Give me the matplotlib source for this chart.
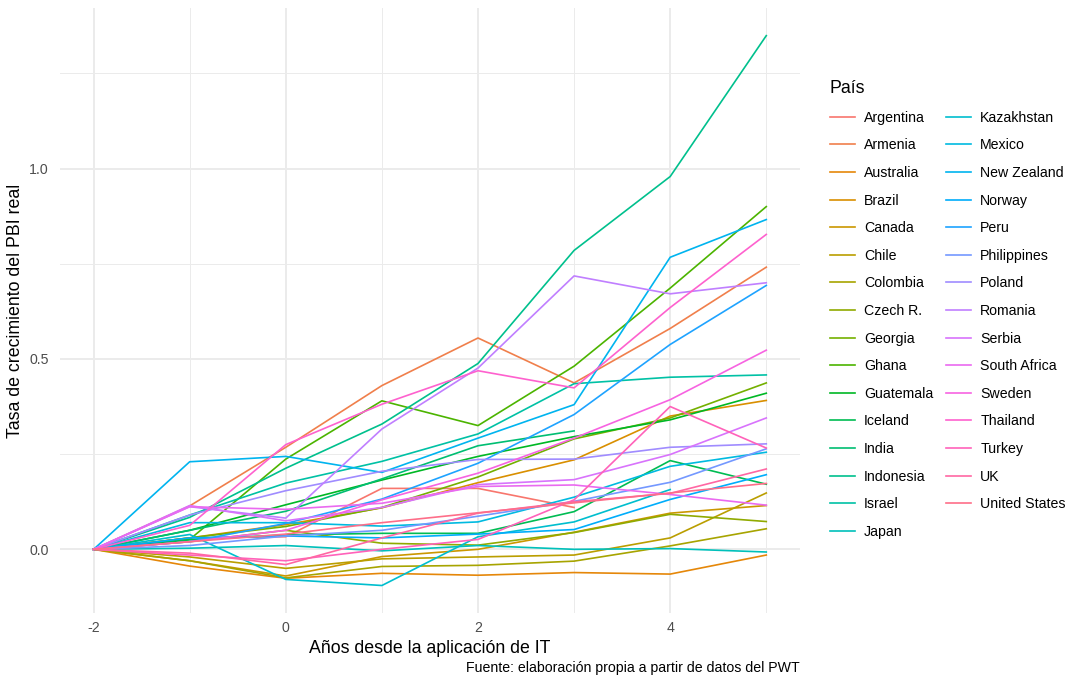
import numpy as np
from matplotlib import pyplot as plt

anios = [-2, -1, 0, 1, 2, 3, 4, 5]

argentina = [0, 0.03, 0.033, 0.16, 0.16, 0.11]
armenia = [0, 0.114, 0.268, 0.43, 0.555, 0.437, 0.58, 0.741]
australia = [0, -0.044, -0.076, -0.063, -0.068, -0.061, -0.065, -0.015]
brazil = [0, 0.03, 0.065, 0.109, 0.175, 0.235, 0.35, 0.391]
canada = [0, -0.03, -0.07, -0.019, 0.0, 0.045, 0.095, 0.115]
chile = [0, -0.02, -0.05, -0.025, -0.02, -0.015, 0.03, 0.148]
colombia = [0, -0.03, -0.075, -0.045, -0.042, -0.031, 0.009, 0.054]
czech = [0, 0.02, 0.05, 0.016, 0.011, 0.044, 0.092, 0.073]
georgia = [0, 0.03, 0.06, 0.11, 0.19, 0.29, 0.345, 0.437]
ghana = [0, 0.026, 0.237, 0.39, 0.325, 0.481, 0.686, 0.900]
guatemala = [0, 0.05, 0.117, 0.182, 0.244, 0.296, 0.34, 0.41]
iceland = [0, 0.025, 0.038, 0.042, 0.042, 0.099, 0.233, 0.171]
india = [0, 0.05, 0.10, 0.185, 0.272, 0.311]
indonesia = [0, 0.084, 0.213, 0.329, 0.488, 0.785, 0.979, 1.349]
israel = [0, 0.09, 0.174, 0.231, 0.303, 0.435, 0.452, 0.458]
japan = [0, 0.003, 0.01, -0.004, 0.01, 0.0, 0.002, -0.007]
kazakhstan = [0, 0.039, -0.079, -0.095, 0.033, 0.072, 0.157]
mexico = [0, 0.07, 0.07, 0.061, 0.072, 0.137, 0.218, 0.255]
new_zealand = [0, 0.23, 0.244, 0.202, 0.292, 0.38, 0.767, 0.866]
norway = [0, 0.03, 0.035, 0.03, 0.04, 0.052, 0.131, 0.196]
peru = [0, 0.02, 0.068, 0.132, 0.226, 0.354, 0.538, 0.693]
philippines = [0, 0.01, 0.035, 0.05, 0.087, 0.126, 0.176, 0.264]
poland = [0, 0.09, 0.154, 0.205, 0.236, 0.237, 0.268, 0.277]
romania = [0, 0.112, 0.082, 0.316, 0.476, 0.718, 0.671, 0.70]
serbia = [0, 0.115, 0.075, 0.11, 0.17, 0.183, 0.249, 0.345]
south_africa = [0, 0.112, 0.105, 0.121, 0.165, 0.169, 0.144, 0.116]
sweden = [0, 0.02, 0.05, 0.13, 0.2, 0.292, 0.393, 0.523]
thailand = [0, 0.063, 0.275, 0.381, 0.469, 0.424, 0.635, 0.827]
turkey = [0, -0.015, -0.03, 0.0, 0.026, 0.13, 0.375, 0.266]
uk = [0, -0.01, -0.04, 0.03, 0.095, 0.125, 0.147, 0.211]
united_states = [0, 0.02, 0.04, 0.07, 0.096, 0.122, 0.148, 0.173]

paises = ["Argentina", "Armenia", "Australia", "Brazil", "Canada", "Chile",
          "Colombia", "Czech R.", "Georgia", "Ghana", "Guatemala", "Iceland",
          "India", "Indonesia", "Israel", "Japan", "Kazakhstan", "Mexico",
          "New Zealand", "Norway", "Peru", "Philippines", "Poland", "Romania",
          "Serbia", "South Africa", "Sweden", "Thailand", "Turkey", "UK",
          "United States"]
series = [argentina, armenia, australia, brazil, canada, chile, colombia,
          czech, georgia, ghana, guatemala, iceland, india, indonesia, israel,
          japan, kazakhstan, mexico, new_zealand, norway, peru, philippines,
          poland, romania, serbia, south_africa, sweden, thailand, turkey, uk,
          united_states]


def hue_pal(n, c=100, l=65):
    # colores tipo ggplot (hcl -> sRGB)
    hues = np.linspace(15, 375, n + 1)[:n]
    un, vn = 0.1978398, 0.4683363
    out = []
    for h in hues:
        h = np.deg2rad(h)
        U, V = c * np.cos(h), c * np.sin(h)
        Y = ((l + 16) / 116) ** 3
        u = U / (13 * l) + un
        v = V / (13 * l) + vn
        X = 9.0 * Y * u / (4 * v)
        Z = -X / 3 - 5 * Y + 3 * Y / v
        rgb = np.array([3.240479 * X - 1.537150 * Y - 0.498535 * Z,
                        -0.969256 * X + 1.875992 * Y + 0.041556 * Z,
                        0.055648 * X - 0.204043 * Y + 1.057311 * Z])
        rgb = np.where(rgb > 0.00304, 1.055 * np.abs(rgb) ** (1 / 2.4) - 0.055, 12.92 * rgb)
        out.append(tuple(np.clip(rgb, 0, 1)))
    return out


plt.rcParams['font.family'] = ['Liberation Sans', 'DejaVu Sans']
plt.rcParams['axes.unicode_minus'] = False

fig = plt.figure(figsize=(10.65, 6.79), dpi=100)
ax = fig.add_axes([0.0563, 0.0972, 0.6948, 0.8908])

colores = hue_pal(len(paises))
for nombre, valores, color in zip(paises, series, colores):
    ax.plot(anios[:len(valores)], valores, color=color, lw=1.2, label=nombre)

ax.margins(x=0.05, y=0.05)
ax.set_xticks([-2, 0, 2, 4])
ax.set_xticks([-1, 1, 3, 5], minor=True)
ax.set_yticks([0, 0.5, 1.0])
ax.set_yticklabels(["0.0", "0.5", "1.0"])
ax.set_yticks([0.25, 0.75, 1.25], minor=True)
ax.grid(True, which='major', color='#EBEBEB', lw=1.4)
ax.grid(True, which='minor', color='#EBEBEB', lw=0.7)
ax.set_axisbelow(True)
for s in ax.spines.values():
    s.set_visible(False)
ax.tick_params(which='both', length=0, labelsize=10.2, labelcolor='#4D4D4D')
ax.tick_params(axis='x', pad=6)
ax.tick_params(axis='y', pad=8)

ax.set_xlabel('Años desde la aplicación de IT', fontsize=12.8, labelpad=3)
ax.set_ylabel('Tasa de crecimiento del PBI real', fontsize=12.8, labelpad=4)

fig.text(0.751, 0.0155, 'Fuente: elaboración propia a partir de datos del PWT',
         ha='right', va='center', fontsize=10.2)

leg = fig.legend(loc='upper left', bbox_to_anchor=(0.7793, 0.882), ncol=2,
                 frameon=False, title='País', title_fontsize=12.8, fontsize=10.2,
                 alignment='left', borderpad=0, borderaxespad=0,
                 handlelength=1.76, handletextpad=0.64, labelspacing=0.96,
                 columnspacing=0.92)

plt.savefig('out.png', dpi=100)
